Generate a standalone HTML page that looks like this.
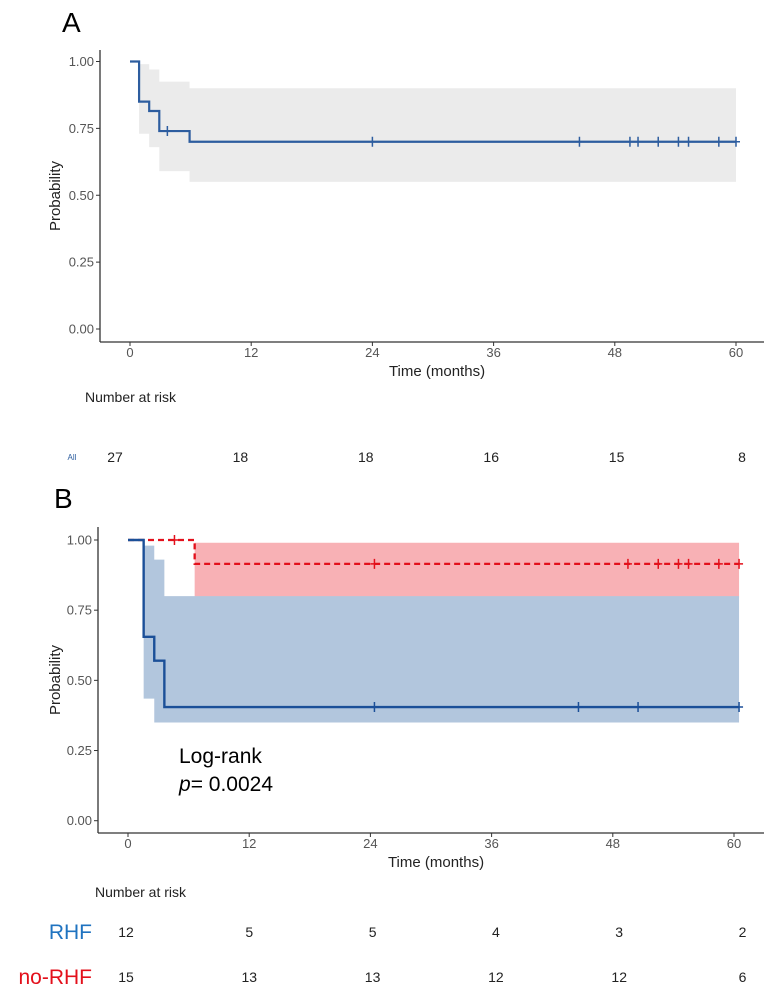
<!DOCTYPE html>
<html><head><meta charset="utf-8"><style>
html,body{margin:0;padding:0;background:#fff;}
svg{display:block;font-family:"Liberation Sans",sans-serif;}
</style></head><body>
<svg id="fig" width="775" height="997" viewBox="0 0 775 997"></svg>
<script>
// ---- Panel A data ----
const aTimes = [0, 0.9, 1.9, 2.9, 5.9, 60];
const aSurv = [1.0, 0.85, 0.815, 0.74, 0.70, 0.70];
const aLower = [1.0, 0.73, 0.68, 0.59, 0.55, 0.55];
const aUpper = [1.0, 0.99, 0.97, 0.925, 0.90, 0.90];
const aCensor = [3.7, 24, 44.5, 49.5, 50.3, 52.3, 54.3, 55.3, 58.3, 60];
const aRisk = [27, 18, 18, 16, 15, 8];
// ---- Panel B data ----
const rhfTimes = [0, 1.55, 2.6, 3.6, 60.5];
const rhfSurv = [1.0, 0.655, 0.57, 0.405, 0.405];
const rhfLower = [1.0, 0.435, 0.35, 0.35, 0.35];
const rhfUpper = [1.0, 0.98, 0.93, 0.80, 0.80];
const rhfCensor = [24.4, 44.6, 50.5, 60.5];
const norhfTimes = [0, 6.6, 60.5];
const norhfSurv = [1.0, 0.915, 0.915];
const norhfLower = [1.0, 0.795, 0.795];
const norhfUpper = [1.0, 0.99, 0.99];
const norhfCensor = [4.6, 24.4, 49.5, 52.5, 54.5, 55.5, 58.5, 60.5];
const rhfRisk = [12, 5, 5, 4, 3, 2];
const norhfRisk = [15, 13, 13, 12, 12, 6];
const xTicks = [0, 12, 24, 36, 48, 60];
const yTicks = [0, 0.25, 0.5, 0.75, 1.0];

const NS = "http://www.w3.org/2000/svg";
const svg = document.getElementById('fig');
function el(tag, attrs, parent, text) {
  const e = document.createElementNS(NS, tag);
  for (const k in attrs) e.setAttribute(k, attrs[k]);
  if (text !== undefined) e.textContent = text;
  (parent || svg).appendChild(e);
  return e;
}
function stepPath(times, vals, xs, ys) {
  let d = "M" + xs(times[0]) + "," + ys(vals[0]);
  for (let i = 1; i < times.length; i++) {
    d += " H" + xs(times[i]) + " V" + ys(vals[i]);
  }
  return d;
}
function ribbon(times, lo, hi, xs, ys, start) {
  let top = [], bot = [];
  for (let i = start; i < times.length - 1; i++) {
    top.push([xs(times[i]), ys(hi[i])], [xs(times[i + 1]), ys(hi[i])]);
    bot.push([xs(times[i]), ys(lo[i])], [xs(times[i + 1]), ys(lo[i])]);
  }
  const pts = top.concat(bot.reverse());
  return "M" + pts.map(p => p.join(",")).join(" L") + " Z";
}
function survAt(times, vals, t) {
  let v = vals[0];
  for (let i = 0; i < times.length; i++) if (times[i] <= t) v = vals[i];
  return v;
}
function axes(g, xs, ys, x0, yBase, xEnd, yTop, titleY) {
  el('line', {x1: x0, y1: yTop, x2: x0, y2: yBase, stroke: '#333', 'stroke-width': 1.3}, g);
  el('line', {x1: x0, y1: yBase, x2: xEnd, y2: yBase, stroke: '#333', 'stroke-width': 1.3}, g);
  yTicks.forEach(v => {
    el('line', {x1: x0 - 4, x2: x0, y1: ys(v), y2: ys(v), stroke: '#333'}, g);
    const t = el('text', {x: x0 - 6, y: ys(v) + 4.5, 'text-anchor': 'end', 'font-size': 13, fill: '#555'}, g, v.toFixed(2));
    
    
  });
  xTicks.forEach(v => {
    el('line', {x1: xs(v), x2: xs(v), y1: yBase, y2: yBase + 4, stroke: '#333'}, g);
    const t = el('text', {x: xs(v), y: yBase + 15, 'text-anchor': 'middle', 'font-size': 13, fill: '#555'}, g, String(v));
    
    
  });
  const xt = el('text', {x: (x0 + xEnd) / 2 + 5, y: titleY, 'text-anchor': 'middle', 'font-size': 15, fill: '#222'}, g, 'Time (months)');
  
  
  const cy = (yTop + yBase) / 2;
  const yt = el('text', {x: 60, y: cy, 'text-anchor': 'middle', 'font-size': 15, fill: '#222', transform: 'rotate(-90 60 ' + cy + ')'}, g, 'Probability');
  
  
}
function censors(g, list, times, vals, xs, ys, color, name) {
  list.forEach(t => {
    const x = xs(t), y = ys(survAt(times, vals, t));
    const p = el('path', {d: `M${x - 4},${y} H${x + 4} M${x},${y - 5} V${y + 5}`, stroke: color, 'stroke-width': 1.5, fill: 'none'}, g);
    
    
  });
}

// ===== Panel A =====
const gA = el('g', {});


const xA = t => 130 + t * 10.1;
const yA = v => 329 - v * 267.5;
const lblA = el('text', {x: 62, y: 32, 'font-size': 28, fill: '#000'}, gA, 'A');


const ciA = el('path', {d: ribbon(aTimes, aLower, aUpper, xA, yA, 1), fill: '#ebebeb'}, gA);


axes(gA, xA, yA, 100, 342, 764, 50, 376);
const lnA = el('path', {d: stepPath(aTimes, aSurv, xA, yA), stroke: '#2d5d9f', 'stroke-width': 2.2, fill: 'none'}, gA);


censors(gA, aCensor, aTimes, aSurv, xA, yA, '#2d5d9f', 'censor-mark-all');
const nrA = el('text', {x: 85, y: 402, 'font-size': 14, fill: '#222'}, gA, 'Number at risk');


const allL = el('text', {x: 72, y: 460, 'text-anchor': 'middle', 'font-size': 8, fill: '#2d5d9f'}, gA, 'All');


aRisk.forEach((n, i) => {
  const t = el('text', {x: 115 + i * 125.4, y: 462, 'text-anchor': 'middle', 'font-size': 14, fill: '#222'}, gA, String(n));
  
  
});

// ===== Panel B =====
const gB = el('g', {});


const xB = t => 128 + t * 10.1;
const yB = v => 820.7 - v * 280.7;
const lblB = el('text', {x: 54, y: 508, 'font-size': 28, fill: '#000'}, gB, 'B');


const ciRed = el('path', {d: ribbon(norhfTimes, norhfLower, norhfUpper, xB, yB, 1), fill: '#f7a9ad', 'fill-opacity': 0.9}, gB);


const ciBlue = el('path', {d: ribbon(rhfTimes, rhfLower, rhfUpper, xB, yB, 1), fill: '#b2c6dd'}, gB);


axes(gB, xB, yB, 98, 833, 764, 527, 867);
const lnRed = el('path', {d: stepPath(norhfTimes, norhfSurv, xB, yB), stroke: '#e3101b', 'stroke-width': 2.3, fill: 'none', 'stroke-dasharray': '6,4'}, gB);


const lnBlue = el('path', {d: stepPath(rhfTimes, rhfSurv, xB, yB), stroke: '#1b4f98', 'stroke-width': 2.4, fill: 'none'}, gB);


censors(gB, norhfCensor, norhfTimes, norhfSurv, xB, yB, '#e3101b', 'censor-mark-no-rhf');
censors(gB, rhfCensor, rhfTimes, rhfSurv, xB, yB, '#1b4f98', 'censor-mark-rhf');
const lr = el('text', {x: 179, y: 763, 'font-size': 21, fill: '#000'}, gB, 'Log-rank');


const pv = el('text', {x: 179, y: 791, 'font-size': 21, fill: '#000'}, gB);


el('tspan', {'font-style': 'italic'}, pv, 'p');
el('tspan', {}, pv, '= 0.0024');
const nrB = el('text', {x: 95, y: 897, 'font-size': 14, fill: '#222'}, gB, 'Number at risk');


const rl = el('text', {x: 92, y: 939, 'text-anchor': 'end', 'font-size': 21, fill: '#1f73c0'}, gB, 'RHF');


const nl = el('text', {x: 92, y: 984, 'text-anchor': 'end', 'font-size': 21, fill: '#e3101b'}, gB, 'no-RHF');


rhfRisk.forEach((n, i) => {
  const t = el('text', {x: 126 + i * 123.3, y: 937, 'text-anchor': 'middle', 'font-size': 14, fill: '#222'}, gB, String(n));
  
  
});
norhfRisk.forEach((n, i) => {
  const t = el('text', {x: 126 + i * 123.3, y: 982, 'text-anchor': 'middle', 'font-size': 14, fill: '#222'}, gB, String(n));
  
  
});
</script>
</body></html>
